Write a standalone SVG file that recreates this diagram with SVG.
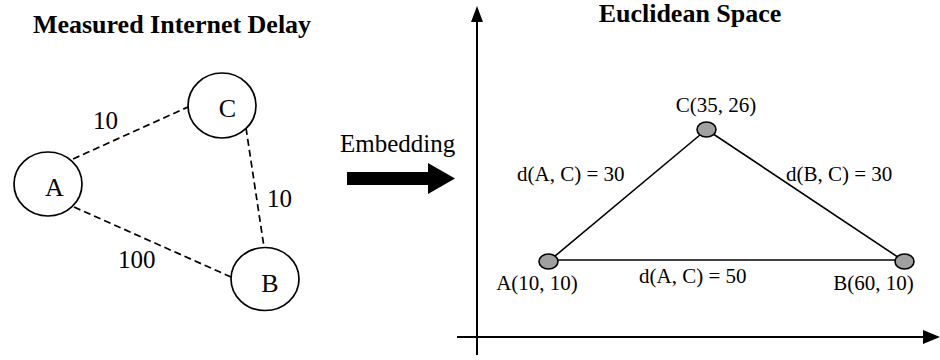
<svg xmlns="http://www.w3.org/2000/svg" width="940" height="360" viewBox="0 0 940 360">
  <style>
    .title { font-family: "Liberation Serif", "Times New Roman", serif; font-weight: bold; font-size: 26px; fill: #000; }
    .big { font-family: "Liberation Serif", "Times New Roman", serif; font-size: 25px; fill: #000; }
    .node { font-family: "Liberation Serif", "Times New Roman", serif; font-size: 26px; fill: #000; }
    .lbl { font-family: "Liberation Serif", "Times New Roman", serif; font-size: 21px; fill: #000; }
    .circ { fill: #fff; stroke: #000; stroke-width: 1.7; }
    .dash { stroke: #000; stroke-width: 1.7; stroke-dasharray: 7 4; fill: none; }
    .edge { stroke: #000; stroke-width: 1.6; fill: none; }
    .dot { fill: #a0a0a0; stroke: #000; stroke-width: 1.6; }
    .axis { stroke: #000; stroke-width: 2; fill: none; }
  </style>
  <rect width="940" height="360" fill="#fff"/>

  <text class="title" x="172" y="33" text-anchor="middle">Measured Internet Delay</text>
  <text class="title" x="690" y="22" text-anchor="middle">Euclidean Space</text>

  <g id="connectors">
    <line class="dash" x1="73" y1="159" x2="188" y2="107"/>
    <line class="dash" x1="246" y1="128" x2="264" y2="247"/>
    <line class="dash" x1="74" y1="207" x2="231" y2="277"/>
    <text class="big" x="93" y="129">10</text>
    <text class="big" x="267" y="207">10</text>
    <text class="big" x="118" y="268">100</text>

    <line class="edge" x1="548.5" y1="261.5" x2="706.5" y2="129.5"/>
    <line class="edge" x1="706.5" y1="129.5" x2="904.5" y2="261.5"/>
    <line class="edge" x1="548.5" y1="260" x2="904.5" y2="260"/>
    <text class="lbl" x="517" y="181">d(A, C) = 30</text>
    <text class="lbl" x="786" y="181">d(B, C) = 30</text>
    <text class="lbl" x="639" y="283">d(A, C) = 50</text>
  </g>

  <g id="nodeA">
    <ellipse class="circ" cx="48" cy="184" rx="34" ry="32"/>
    <text class="node" x="54.5" y="196" text-anchor="middle">A</text>
  </g>
  <g id="nodeC">
    <ellipse class="circ" cx="222" cy="105.5" rx="34" ry="32.5"/>
    <text class="node" x="227.5" y="117" text-anchor="middle">C</text>
  </g>
  <g id="nodeB">
    <ellipse class="circ" cx="265" cy="279" rx="34" ry="31.5"/>
    <text class="node" x="270" y="292" text-anchor="middle">B</text>
  </g>

  <g id="embedding">
    <text class="big" x="340" y="152">Embedding</text>
    <polygon points="347,172 428,172 428,163 455,178.5 428,194 428,185 347,185" fill="#000"/>
  </g>

  <g id="axes">
    <line class="axis" x1="477" y1="20" x2="477" y2="355"/>
    <polygon points="477,6 471,22 483,22" fill="#000"/>
    <line class="axis" x1="457" y1="337" x2="924" y2="337"/>
    <polygon points="940,337 923,330 923,344" fill="#000"/>
  </g>

  <g id="ptC">
    <ellipse class="dot" cx="706.5" cy="129.5" rx="9.5" ry="7.5"/>
    <text class="lbl" x="716" y="112" text-anchor="middle">C(35, 26)</text>
  </g>
  <g id="ptA">
    <ellipse class="dot" cx="548.5" cy="261.5" rx="9.5" ry="7.5"/>
    <text class="lbl" x="537" y="290" text-anchor="middle">A(10, 10)</text>
  </g>
  <g id="ptB">
    <ellipse class="dot" cx="904.5" cy="261.5" rx="9.5" ry="7.5"/>
    <text class="lbl" x="873.5" y="290" text-anchor="middle">B(60, 10)</text>
  </g>
</svg>
